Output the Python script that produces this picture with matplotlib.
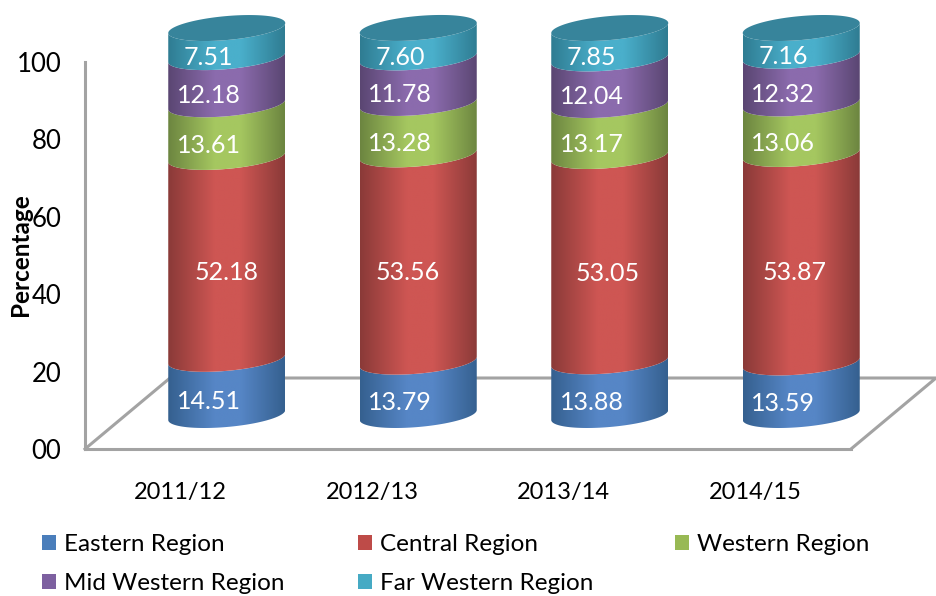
import numpy as np
import matplotlib
matplotlib.use("Agg")
import matplotlib.pyplot as plt
from matplotlib.colors import LinearSegmentedColormap
from matplotlib.patches import Polygon, Patch

years = ["2011/12", "2012/13", "2013/14", "2014/15"]
eastern = [14.51, 13.79, 13.88, 13.59]
central = [52.18, 53.56, 53.05, 53.87]
western = [13.61, 13.28, 13.17, 13.06]
mid_western = [12.18, 11.78, 12.04, 12.32]
far_western = [7.51, 7.60, 7.85, 7.16]
region_names = ["Eastern Region", "Central Region", "Western Region",
                "Mid Western Region", "Far Western Region"]
y_ticks = [0, 20, 40, 60, 80, 100]
y_tick_labels = ["00", "20", "40", "60", "80", "100"]

series = [eastern, central, western, mid_western, far_western]
light = ["#5686c6", "#ce5653", "#a5c760", "#8b6bad", "#4aafcb"]
dark = ["#35608f", "#8a3a38", "#6c8540", "#5a4672", "#2f7c92"]
flat = ["#4a7ebb", "#be4b48", "#98b954", "#7d60a0", "#46aac4"]
top_col = "#37849b"
grey = "#a3a3a3"
central_label_shift = [0, -11, -2, -7]

plt.rcParams["font.family"] = ["Lato", "DejaVu Sans"]
W, H = 936, 596
fig = plt.figure(figsize=(W / 100, H / 100), dpi=100)
ax = fig.add_axes([85 / W, 1 - 449 / H, (851 - 85) / W, (449 - 62) / H])
ax.set_xlim(-0.5, 3.5)
ax.set_ylim(0, 100)
px_x = (851 - 85) / 4
px_y = (449 - 62) / 100
PT = 0.72

for s in ["top", "right"]:
    ax.spines[s].set_visible(False)
for s in ["left", "bottom"]:
    ax.spines[s].set_color(grey)
    ax.spines[s].set_linewidth(2.2)
ax.set_yticks(y_ticks, y_tick_labels, fontsize=18.5)
ax.set_xticks(range(4), years, fontsize=17)
ax.tick_params(axis="y", length=0, pad=17)
ax.tick_params(axis="x", length=0, pad=23.5)
ax.set_ylabel("Percentage", fontsize=17.5, fontweight="bold", va="center")
ax.yaxis.set_label_coords((21 - 85) / (851 - 85), (449 - 255) / 387)

# floor of the 3-D box
fdx, fdy = 85 / px_x, 71 / px_y
ax.plot([-0.5, -0.5 + fdx, 3.5 + fdx, 3.5], [0, fdy, fdy, 0], color=grey,
        lw=2.2, clip_on=False, zorder=1, solid_joinstyle="miter")

# cylinders
ddx, ddy = 46 / px_x, 34 / px_y
hw = 58.5 / px_x
ry = 12 / px_y
tilt = 5 / px_y
t = np.linspace(0, np.pi, 90)
u = np.linspace(0, 1, 256)
for i in range(4):
    cx = i + ddx
    cum = ddy
    c = -np.cos(t)
    xs = cx + hw * c
    for k, vals in enumerate(series):
        v = vals[i]
        yl = cum + tilt * c - ry * np.sin(t)
        yu = yl + v
        verts = np.vstack([np.column_stack([xs, yl]),
                           np.column_stack([xs[::-1], yu[::-1]])])
        poly = Polygon(verts, closed=True, fc="none", ec="none", clip_on=False)
        ax.add_patch(poly)
        cmap = LinearSegmentedColormap.from_list(
            f"g{k}", [(0, dark[k]), (0.4, light[k]), (0.62, light[k]), (1, dark[k])])
        im = ax.imshow(u[None, :], cmap=cmap, vmin=0, vmax=1, aspect="auto",
                       extent=[cx - hw, cx + hw, cum - 8, cum + v + 8],
                       zorder=3 + k * 0.01, interpolation="bilinear")
        im.set_clip_box(fig.bbox)
        im.set_clip_path(poly)
        dx_lab = central_label_shift[i] if k == 1 else -18
        ax.annotate(f"{v:.2f}", (cx, cum + v / 2),
                    xytext=(dx_lab * PT, -14.5 * PT), textcoords="offset points",
                    ha="center", va="center", color="white", fontsize=18,
                    zorder=6, annotation_clip=False)
        cum += v
    tt = np.linspace(0, 2 * np.pi, 180)
    capx = cx + hw * np.cos(tt)
    capy = cum + tilt * np.cos(tt) + ry * np.sin(tt)
    ax.add_patch(Polygon(np.column_stack([capx, capy]), closed=True, fc=top_col,
                         ec="none", zorder=4, clip_on=False))

ax.set_xlim(-0.5, 3.5)
ax.set_ylim(0, 100)

kw = dict(loc="upper left", bbox_transform=fig.transFigure, frameon=False,
          fontsize=17.5, borderpad=0, borderaxespad=0, handlelength=0.58,
          handleheight=0.58, handletextpad=0.33, labelspacing=0.74)
leg1 = fig.legend(handles=[Patch(fc=flat[k], ec="none", label=region_names[k]) for k in [0, 3, 1, 4]],
                  ncols=2, columnspacing=3.0, bbox_to_anchor=(42 / W, 1 - 534 / H), **kw)
leg2 = fig.legend(handles=[Patch(fc=flat[2], ec="none", label=region_names[2])],
                  bbox_to_anchor=(675 / W, 1 - 534 / H), **kw)
fig.savefig("out.png", dpi=100)
